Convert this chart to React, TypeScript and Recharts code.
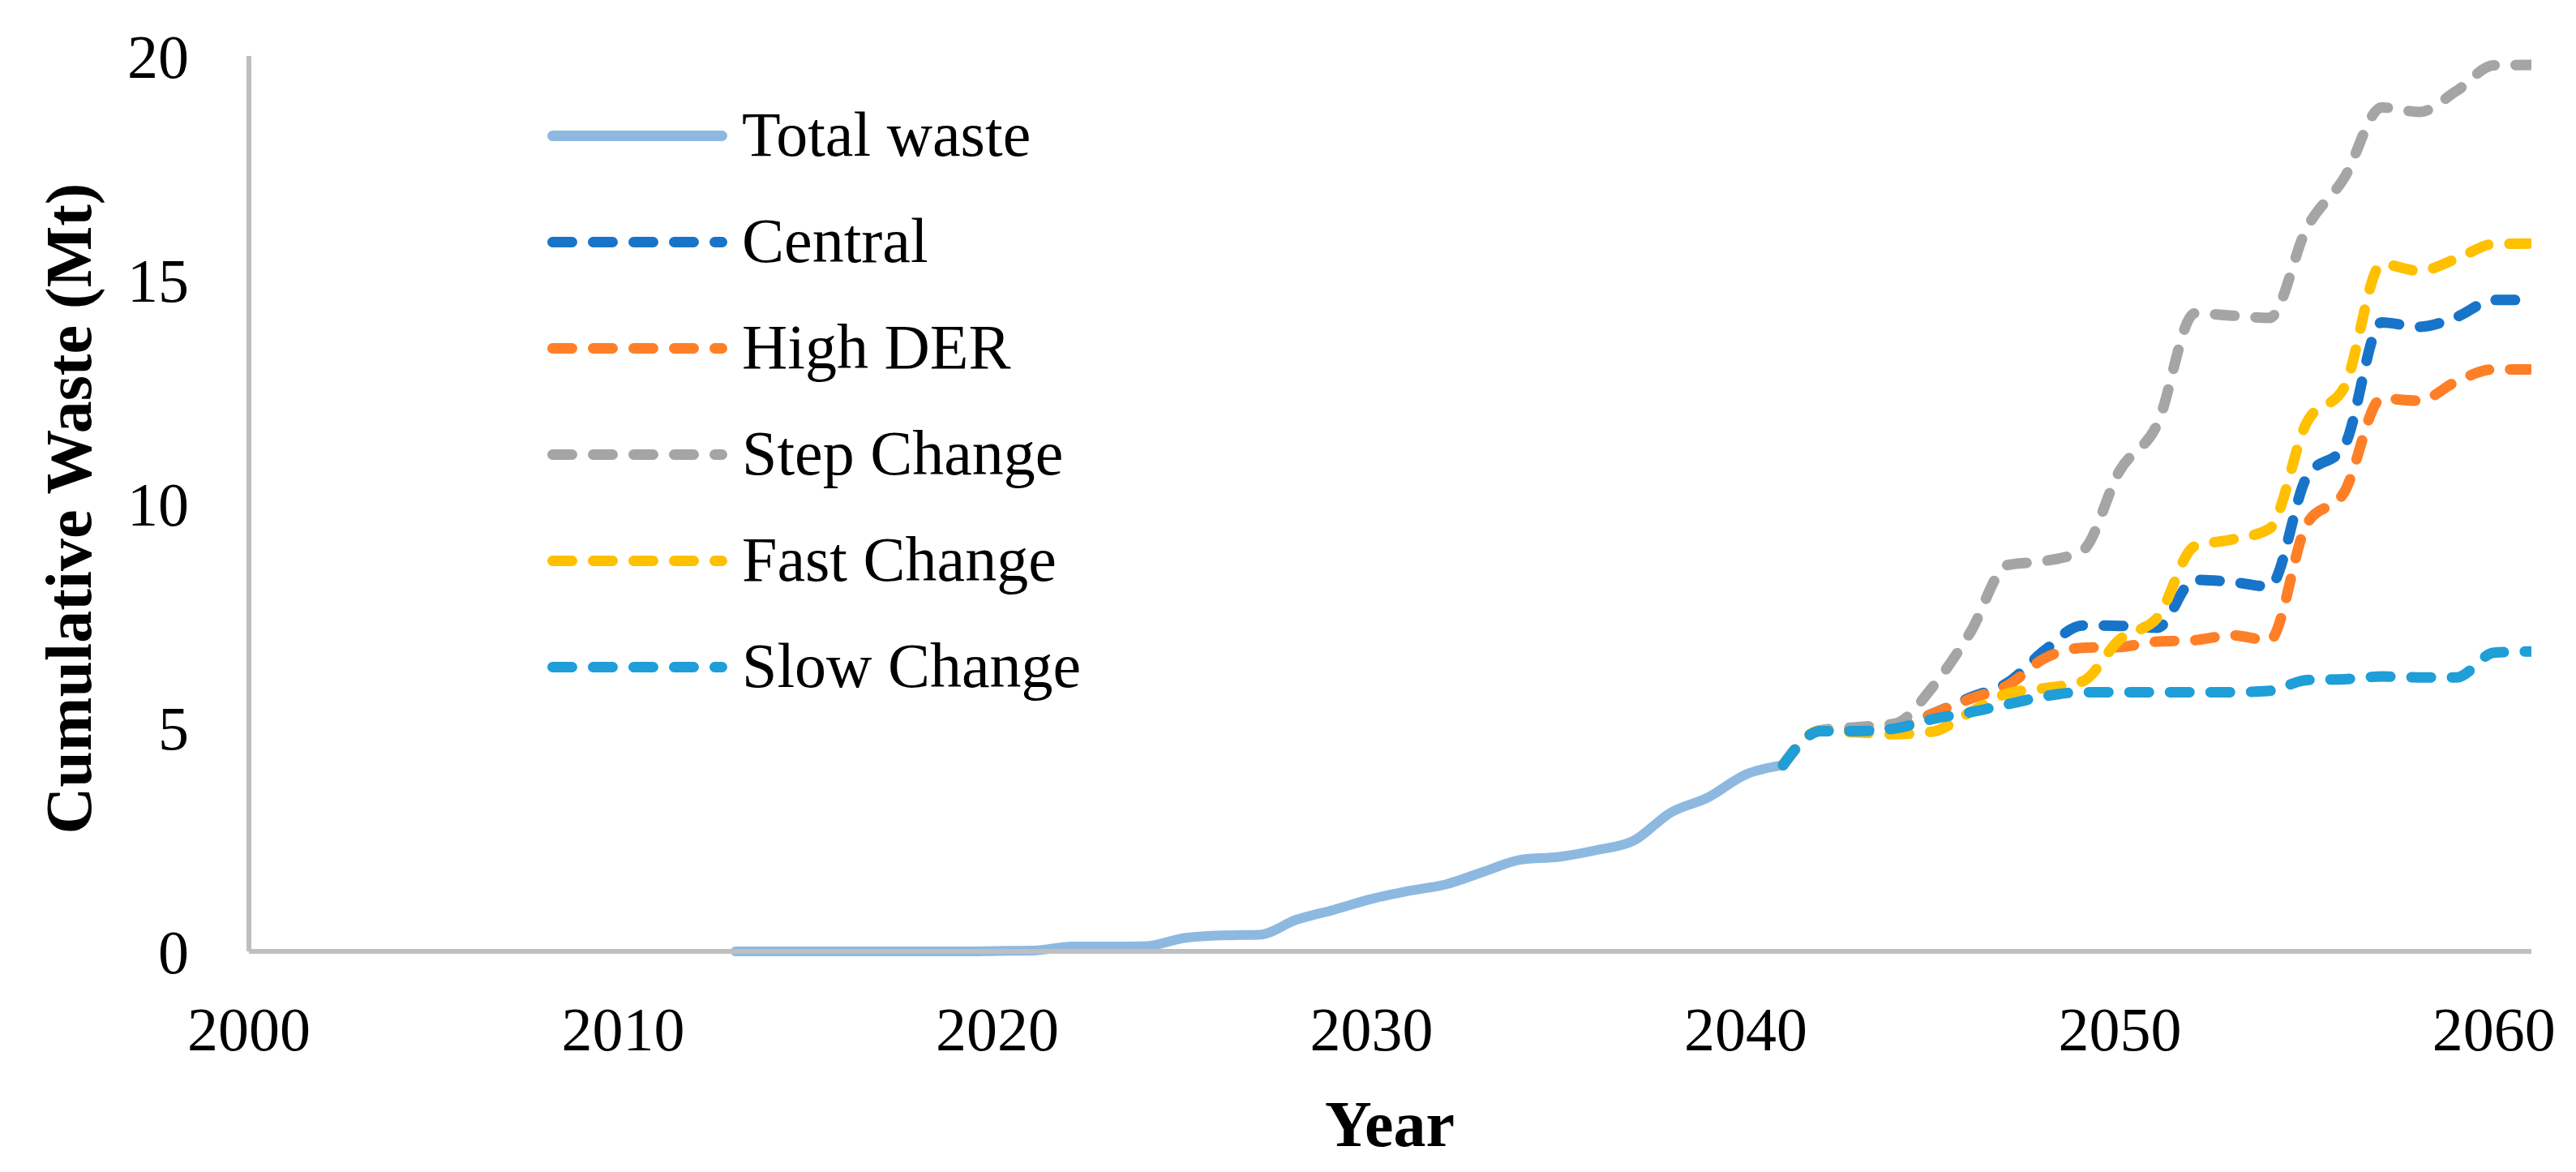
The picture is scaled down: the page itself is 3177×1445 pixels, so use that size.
import React from 'react';
import { LineChart, Line, XAxis, YAxis, Legend } from 'recharts';

// ---- data ----
const totalYears = [2013, 2014, 2015, 2016, 2017, 2018, 2019, 2020, 2021, 2022, 2023, 2024, 2025, 2026, 2027, 2028, 2029, 2030, 2031, 2032, 2033, 2034, 2035, 2036, 2037, 2038, 2039, 2040, 2041];
const totalWaste = [0, 0, 0, 0, 0, 0, 0, 0.01, 0.02, 0.11, 0.11, 0.12, 0.3, 0.36, 0.37, 0.71, 0.93, 1.17, 1.35, 1.5, 1.78, 2.05, 2.11, 2.26, 2.47, 3.1, 3.44, 3.95, 4.16];

const scenarioYears = [2041, 2042, 2043, 2044, 2045, 2046, 2047, 2048, 2049, 2050, 2051, 2052, 2053, 2054, 2055, 2056, 2057, 2058, 2059, 2060, 2061];
const central = [4.16, 4.93, 4.95, 5.0, 5.31, 5.67, 6.0, 6.73, 7.28, 7.27, 7.23, 8.3, 8.25, 8.15, 10.6, 11.29, 14.05, 13.95, 14.17, 14.55, 14.55];
const highDER = [4.16, 4.93, 4.95, 5.0, 5.31, 5.64, 5.94, 6.55, 6.78, 6.8, 6.92, 6.95, 7.06, 6.95, 9.55, 10.26, 12.35, 12.3, 12.73, 13.0, 13.0];
const stepChange = [4.16, 4.94, 5.01, 5.09, 5.91, 7.12, 8.63, 8.72, 8.95, 10.74, 11.77, 14.25, 14.2, 14.15, 16.16, 17.28, 18.85, 18.75, 19.22, 19.79, 19.8];
const fastChange = [4.16, 4.93, 4.89, 4.85, 4.91, 5.34, 5.76, 5.88, 6.03, 6.97, 7.45, 9.05, 9.2, 9.44, 11.82, 12.6, 15.35, 15.2, 15.47, 15.8, 15.81];
const slowChange = [4.16, 4.92, 4.92, 4.98, 5.19, 5.34, 5.52, 5.7, 5.79, 5.79, 5.79, 5.79, 5.79, 5.82, 6.06, 6.08, 6.14, 6.12, 6.12, 6.67, 6.7];

const xTicks = [2000, 2010, 2020, 2030, 2040, 2050, 2060];
const yTicks = [0, 5, 10, 15, 20];

const series = [
  { key: 'total', name: 'Total waste', color: '#8DB9E1', dashed: false, values: totalWaste, years: totalYears },
  { key: 'central', name: 'Central', color: '#1874C8', dashed: true, values: central, years: scenarioYears },
  { key: 'highDER', name: 'High DER', color: '#FF7F27', dashed: true, values: highDER, years: scenarioYears },
  { key: 'step', name: 'Step Change', color: '#A5A5A5', dashed: true, values: stepChange, years: scenarioYears },
  { key: 'fast', name: 'Fast Change', color: '#FFC000', dashed: true, values: fastChange, years: scenarioYears },
  { key: 'slow', name: 'Slow Change', color: '#1F9ED8', dashed: true, values: slowChange, years: scenarioYears },
];

// build table
const allYears: number[] = [];
for (const y of totalYears) if (!allYears.includes(y)) allYears.push(y);
for (const y of scenarioYears) if (!allYears.includes(y)) allYears.push(y);
allYears.sort((a, b) => a - b);
const table = allYears.map((year) => {
  const row: Record<string, number> = { year };
  for (const s of series) {
    const i = s.years.indexOf(year);
    if (i >= 0) row[s.key] = s.values[i];
  }
  return row;
});

const FONT = '"Liberation Serif", "Times New Roman", serif';
const DASH = '24 26';
const AXIS_COLOR = '#BFBFBF';

const LegendContent = (props: any) => {
  const payload = props.payload || [];
  // keep the series order of the chart (not alphabetical)
  const ordered = series
    .map((s) => ({ s, p: payload.find((p: any) => p.dataKey === s.key) }))
    .filter((e) => e.p);
  const rowH = 131;
  return (
    <svg width={820} height={rowH * ordered.length} style={{ display: 'block', overflow: 'visible' }}>
      {ordered.map(({ s, p }, i: number) => {
        const cy = rowH / 2 + i * rowH;
        const color = (p && p.color) || s.color;
        return (
          <g key={s.key}>
            <line
              x1={6.5}
              x2={215.5}
              y1={cy}
              y2={cy}
              stroke={color}
              strokeWidth={13}
              strokeLinecap="round"
              strokeDasharray={s.dashed ? DASH : undefined}
            />
            <text x={240} y={cy + 24} fontFamily={FONT} fontSize={78} fill="#000">
              {p.value || s.name}
            </text>
          </g>
        );
      })}
    </svg>
  );
};

const YTitle = () => (
  <text
    x={112}
    y={627}
    transform="rotate(-90, 112, 627)"
    textAnchor="middle"
    fontFamily={FONT}
    fontWeight="bold"
    fontSize={80}
    fill="#000"
  >
    Cumulative Waste (Mt)
  </text>
);

const XTitle = () => (
  <text x={1714} y={1413} textAnchor="middle" fontFamily={FONT} fontWeight="bold" fontSize={80} fill="#000">
    Year
  </text>
);

export default function App() {
  return (
    <div style={{ position: 'absolute', left: 0, top: 0, width: 3177, height: 1445, background: '#fff' }}>
      <LineChart
        width={3177}
        height={1445}
        data={table}
        margin={{ top: 69, right: 55, left: 207, bottom: 172 }}
      >
        <XAxis
          type="number"
          dataKey="year"
          domain={[2000, 2061]}
          ticks={xTicks}
          allowDataOverflow
          height={100}
          tickSize={0}
          tickLine={false}
          tickMargin={68}
          axisLine={{ stroke: AXIS_COLOR, strokeWidth: 6 }}
          tick={{ fontFamily: FONT, fontSize: 76, fill: '#000' }}
          label={XTitle}
        />
        <YAxis
          type="number"
          domain={[0, 20]}
          ticks={yTicks}
          width={100}
          tickSize={0}
          tickLine={false}
          tickMargin={74}
          axisLine={{ stroke: AXIS_COLOR, strokeWidth: 6 }}
          tick={{ fontFamily: FONT, fontSize: 76, fill: '#000' }}
          label={YTitle}
        />
        <Legend
          layout="vertical"
          align="center"
          verticalAlign="middle"
          wrapperStyle={{ left: 675, top: 101.5, width: 820, height: 786 }}
          content={LegendContent}
        />
        {series.map((s) => (
          <Line
            key={s.key}
            dataKey={s.key}
            name={s.name}
            type="monotone"
            stroke={s.color}
            strokeWidth={s.dashed ? 13 : 12}
            strokeLinecap="round"
            strokeLinejoin="round"
            strokeDasharray={s.dashed ? DASH : undefined}
            dot={false}
            activeDot={false}
            connectNulls={false}
            isAnimationActive={false}
          />
        ))}
      </LineChart>
    </div>
  );
}
